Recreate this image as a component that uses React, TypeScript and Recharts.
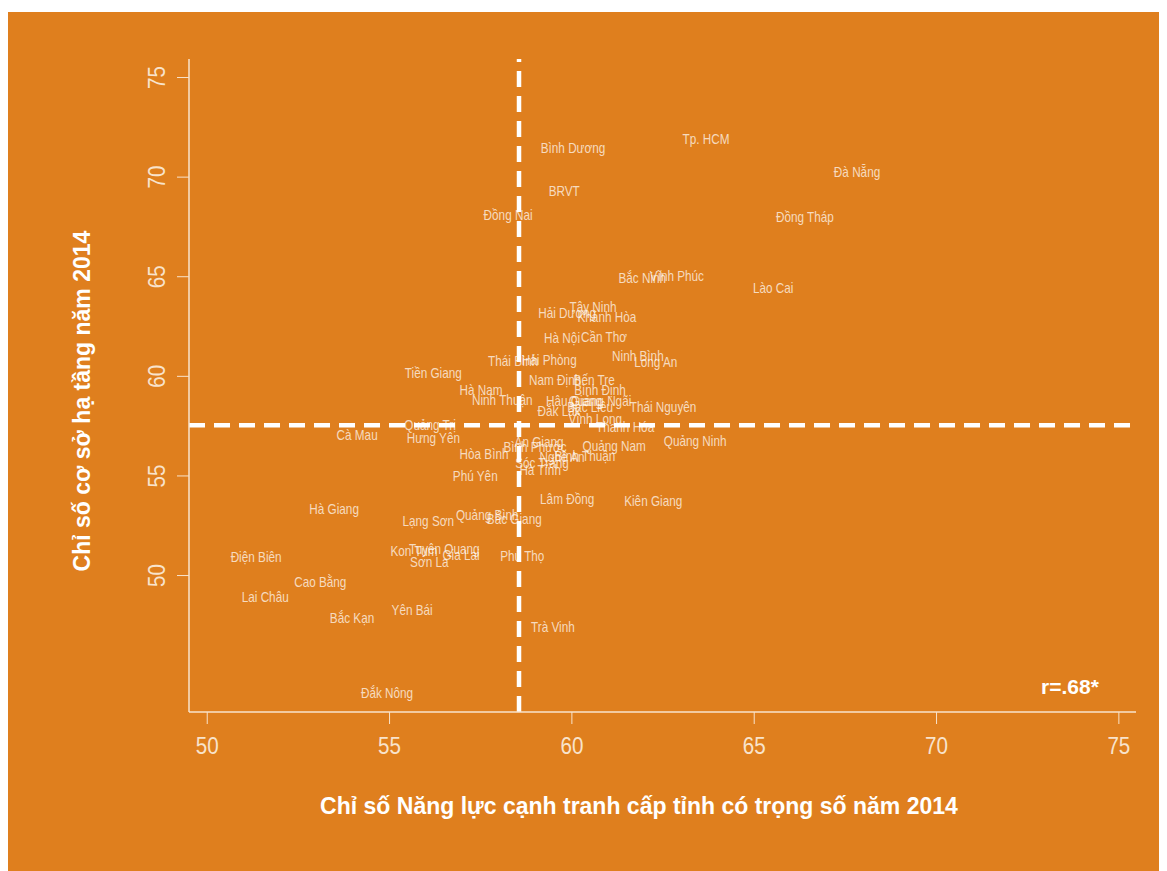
import { ScatterChart, Scatter, XAxis, YAxis, ReferenceLine } from "recharts";

const provinces = [
  "Tp. HCM", "Đà Nẵng", "Bình Dương", "BRVT", "Đồng Nai", "Đồng Tháp",
  "Bắc Ninh", "Vĩnh Phúc", "Lào Cai", "Tây Ninh", "Hải Dương", "Khánh Hòa",
  "Hà Nội", "Cần Thơ", "Thái Bình", "Hải Phòng", "Ninh Bình", "Long An",
  "Tiền Giang", "Nam Định", "Bến Tre", "Hà Nam", "Bình Định", "Ninh Thuận",
  "Hậu Giang", "Quảng Ngãi", "Bạc Liêu", "Thái Nguyên", "Đắk Lắk", "Vĩnh Long",
  "Thanh Hóa", "Quảng Trị", "Cà Mau", "Hưng Yên", "An Giang", "Bình Phước",
  "Quảng Nam", "Quảng Ninh", "Hòa Bình", "Nghệ An", "Bình Thuận", "Sóc Trăng",
  "Hà Tĩnh", "Phú Yên", "Lâm Đồng", "Kiên Giang", "Hà Giang", "Lạng Sơn",
  "Quảng Bình", "Bắc Giang", "Điện Biên", "Kon Tum", "Tuyên Quang", "Gia Lai",
  "Sơn La", "Phú Thọ", "Cao Bằng", "Lai Châu", "Yên Bái", "Bắc Kạn",
  "Trà Vinh", "Đắk Nông",
];

// PCI có trọng số 2014
const pciScores = [
  63.68, 67.82, 60.03, 59.79, 58.25, 66.39,
  61.93, 62.88, 65.52, 60.58, 59.87, 60.96,
  59.73, 60.88, 58.39, 59.38, 61.81, 62.3,
  56.2, 59.54, 60.61, 57.51, 60.77, 58.09,
  60.06, 60.77, 60.5, 62.5, 59.65, 60.64,
  61.46, 56.11, 54.11, 56.2, 59.1, 58.99,
  61.16, 63.38, 57.59, 59.73, 60.36, 59.18,
  59.13, 57.35, 59.87, 62.23, 53.48, 56.06,
  57.68, 58.42, 51.34, 55.67, 56.5, 56.96,
  56.09, 58.64, 53.1, 51.59, 55.62, 53.97,
  59.48, 54.93,
];

// Chỉ số cơ sở hạ tầng 2014
const infraScores = [
  71.9, 70.25, 71.45, 69.3, 68.1, 68.0,
  64.95, 65.05, 64.45, 63.45, 63.15, 62.95,
  61.9, 61.95, 60.75, 60.8, 61.0, 60.7,
  60.15, 59.8, 59.8, 59.3, 59.3, 58.8,
  58.75, 58.75, 58.45, 58.45, 58.25, 57.85,
  57.45, 57.55, 57.05, 56.9, 56.7, 56.45,
  56.5, 56.75, 56.1, 55.95, 56.0, 55.65,
  55.3, 55.0, 53.85, 53.75, 53.35, 52.75,
  53.05, 52.85, 50.9, 51.25, 51.35, 51.0,
  50.65, 50.95, 49.65, 48.9, 48.25, 47.85,
  47.4, 44.1,
];

const axisTicks = [50, 55, 60, 65, 70, 75];
const meanPci = 58.55;
const meanInfra = 57.55;

const data = provinces.map((name, i) => ({
  name,
  pci: pciScores[i],
  infra: infraScores[i],
}));

const ORANGE = "#DF7F1E";
const CREAM = "#F8E3CC";
const FONT = "'Liberation Sans', Arial, sans-serif";

function ProvinceLabel(props: any) {
  const { cx, cy, payload } = props;
  return (
    <text
      transform={`translate(${cx},${cy}) scale(0.84,1)`}
      textAnchor="middle"
      dominantBaseline="central"
      fontSize={14}
      fontFamily={FONT}
      fill="#FFFFFF"
      fillOpacity={0.72}
    >
      {payload.name}
    </text>
  );
}

function XTick({ x, y, payload }: any) {
  return (
    <text
      transform={`translate(${x},${y + 20}) scale(0.86,1)`}
      textAnchor="middle"
      dominantBaseline="central"
      fontSize={24}
      fontFamily={FONT}
      fill={CREAM}
    >
      {payload.value}
    </text>
  );
}

function YTick({ x, y, payload }: any) {
  return (
    <text
      transform={`translate(${x - 18},${y}) rotate(-90) scale(0.86,1)`}
      textAnchor="middle"
      dominantBaseline="central"
      fontSize={24}
      fontFamily={FONT}
      fill={CREAM}
    >
      {payload.value}
    </text>
  );
}

export default function App() {
  return (
    <div style={{ marginTop: 4, width: 1151, height: 859, background: ORANGE, position: "relative" }}>
      <ScatterChart
        width={1151}
        height={859}
        margin={{ top: 47, right: 23, bottom: 99, left: 101 }}
      >
        <XAxis
          type="number"
          dataKey="pci"
          domain={[49.5, 75.47]}
          ticks={axisTicks}
          allowDataOverflow
          height={60}
          stroke={CREAM}
          tickSize={12}
          tickLine={{ stroke: CREAM }}
          axisLine={{ stroke: CREAM, strokeWidth: 1.5 }}
          tick={<XTick />}
        />
        <YAxis
          type="number"
          dataKey="infra"
          domain={[43.15, 75.93]}
          ticks={axisTicks}
          allowDataOverflow
          width={80}
          stroke={CREAM}
          tickSize={12}
          tickLine={{ stroke: CREAM }}
          axisLine={{ stroke: CREAM, strokeWidth: 1.5 }}
          tick={<YTick />}
        />
        <ReferenceLine x={meanPci} stroke="#FFFFFF" strokeWidth={4.5} strokeDasharray="16 9" />
        <ReferenceLine y={meanInfra} stroke="#FFFFFF" strokeWidth={4.5} strokeDasharray="16 9" />
        <Scatter data={data} shape={<ProvinceLabel />} isAnimationActive={false} />
        <text
          x={1062}
          y={674}
          textAnchor="middle"
          dominantBaseline="central"
          fontSize={21}
          fontWeight="bold"
          fontFamily={FONT}
          fill="#FFFFFF"
        >
          r=.68*
        </text>
        <text
          x={631}
          y={794}
          textAnchor="middle"
          dominantBaseline="central"
          fontSize={23}
          fontWeight="bold"
          fontFamily={FONT}
          fill="#FFFFFF"
        >
          Chỉ số Năng lực cạnh tranh cấp tỉnh có trọng số năm 2014
        </text>
        <text
          transform="translate(74,389) rotate(-90)"
          textAnchor="middle"
          dominantBaseline="central"
          fontSize={23}
          fontWeight="bold"
          fontFamily={FONT}
          fill="#FFFFFF"
        >
          Chỉ số cơ sở hạ tầng năm 2014
        </text>
      </ScatterChart>
    </div>
  );
}
